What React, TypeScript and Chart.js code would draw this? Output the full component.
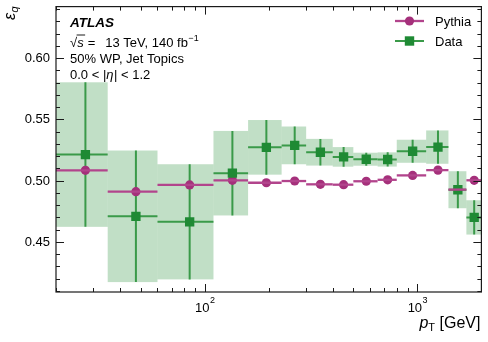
import { useEffect, useRef } from 'react';
import { Chart, registerables } from 'chart.js';

Chart.register(...registerables);

// ---- data ----
const binEdges = [20, 35, 60, 110, 160, 230, 300, 400, 500, 650, 800, 1100, 1400, 1700, 2000];
const dataValues = [0.5212, 0.4708, 0.4663, 0.5060, 0.5271, 0.5287, 0.5231, 0.5193, 0.5174, 0.5172, 0.5239, 0.5273, 0.4925, 0.4699];
const dataErrors = [0.0590, 0.0537, 0.0470, 0.0345, 0.0223, 0.0154, 0.0109, 0.0080, 0.0053, 0.0058, 0.0094, 0.0136, 0.0151, 0.0140];
const pythiaValues = [0.5083, 0.4909, 0.4964, 0.5002, 0.4982, 0.4996, 0.4969, 0.4966, 0.4994, 0.5006, 0.5042, 0.5085, 0.4926, 0.5002];

const yMajorTicks = [0.45, 0.5, 0.55, 0.6];
const yMinorTicks = [0.41, 0.42, 0.43, 0.44, 0.46, 0.47, 0.48, 0.49, 0.51, 0.52, 0.53, 0.54, 0.56, 0.57, 0.58, 0.59, 0.61, 0.62, 0.63, 0.64];
const xMajorTicks = [100, 1000];
const xMajorExponents = ['2', '3'];
const xMinorTicks = [20, 30, 40, 50, 60, 70, 80, 90, 200, 300, 400, 500, 600, 700, 800, 900, 2000];

const xMin = 20;
const xMax = 2000;
const yMin = 0.409;
const yMax = 0.642;

const GREEN = '#1f8a34';
const GREEN_LINE = '#3a9a49';
const BAND = 'rgba(40,145,60,0.29)';
const PINK = '#a5307b';
const PINK_LINE = '#b2448c';
const FONT = '"Liberation Sans", Arial, Helvetica, sans-serif';

const centers = binEdges.slice(0, -1).map((e, i) => (e + binEdges[i + 1]) / 2);

const decor = {
  id: 'decor',
  beforeDatasetsDraw(chart: any) {
    const { ctx, scales } = chart;
    const xs = scales.x;
    const ys = scales.y;
    ctx.save();
    // uncertainty bands
    ctx.fillStyle = BAND;
    for (let i = 0; i < dataValues.length; i++) {
      const x0 = xs.getPixelForValue(binEdges[i]);
      const x1 = xs.getPixelForValue(binEdges[i + 1]);
      const y0 = ys.getPixelForValue(dataValues[i] + dataErrors[i]);
      const y1 = ys.getPixelForValue(dataValues[i] - dataErrors[i]);
      ctx.fillRect(x0, y0, x1 - x0, y1 - y0);
    }
    // data error bars
    ctx.strokeStyle = GREEN_LINE;
    ctx.lineWidth = 2;
    for (let i = 0; i < dataValues.length; i++) {
      const x0 = xs.getPixelForValue(binEdges[i]);
      const x1 = xs.getPixelForValue(binEdges[i + 1]);
      const xc = xs.getPixelForValue(centers[i]);
      const yc = ys.getPixelForValue(dataValues[i]);
      const y0 = ys.getPixelForValue(dataValues[i] + dataErrors[i]);
      const y1 = ys.getPixelForValue(dataValues[i] - dataErrors[i]);
      ctx.beginPath();
      ctx.moveTo(x0, yc);
      ctx.lineTo(x1, yc);
      ctx.moveTo(xc, y0);
      ctx.lineTo(xc, y1);
      ctx.stroke();
    }
    ctx.restore();
  },
  afterDatasetsDraw(chart: any) {
    const { ctx, scales, chartArea } = chart;
    const xs = scales.x;
    const ys = scales.y;
    const { left, right, top, bottom } = chartArea;
    ctx.save();
    // pythia bin-width lines
    ctx.strokeStyle = PINK_LINE;
    ctx.lineWidth = 2.3;
    for (let i = 0; i < pythiaValues.length; i++) {
      const x0 = xs.getPixelForValue(binEdges[i]);
      const x1 = xs.getPixelForValue(binEdges[i + 1]);
      const y = ys.getPixelForValue(pythiaValues[i]);
      ctx.beginPath();
      ctx.moveTo(x0, y);
      ctx.lineTo(x1, y);
      ctx.stroke();
    }

    // frame
    ctx.strokeStyle = '#1a1a1a';
    ctx.lineWidth = 1.2;
    ctx.strokeRect(left, top, right - left, bottom - top);

    // ticks
    ctx.lineWidth = 1;
    ctx.beginPath();
    const yTick = (v: number, len: number) => {
      const y = Math.round(ys.getPixelForValue(v)) + 0.5;
      ctx.moveTo(left, y);
      ctx.lineTo(left + len, y);
      ctx.moveTo(right, y);
      ctx.lineTo(right - len, y);
    };
    const xTick = (v: number, len: number) => {
      const x = Math.round(xs.getPixelForValue(v)) + 0.5;
      ctx.moveTo(x, bottom);
      ctx.lineTo(x, bottom - len);
      ctx.moveTo(x, top);
      ctx.lineTo(x, top + len);
    };
    yMajorTicks.forEach((v) => yTick(v, 8));
    yMinorTicks.forEach((v) => yTick(v, 4));
    xMajorTicks.forEach((v) => xTick(v, 8));
    xMinorTicks.forEach((v) => xTick(v, 4));
    ctx.stroke();

    // y tick labels
    ctx.fillStyle = '#000';
    ctx.font = `13px ${FONT}`;
    ctx.textAlign = 'right';
    ctx.textBaseline = 'middle';
    yMajorTicks.forEach((v) => {
      ctx.fillText(v.toFixed(2), left - 6, ys.getPixelForValue(v) + 0.5);
    });

    // x tick labels 10^n
    ctx.textAlign = 'left';
    ctx.textBaseline = 'alphabetic';
    xMajorTicks.forEach((v, i) => {
      const x = xs.getPixelForValue(v);
      ctx.font = `13px ${FONT}`;
      const w1 = ctx.measureText('10').width;
      ctx.font = `9px ${FONT}`;
      const w2 = ctx.measureText(xMajorExponents[i]).width;
      const sx = x - (w1 + w2) / 2;
      ctx.font = `13px ${FONT}`;
      ctx.fillText('10', sx, bottom + 20);
      ctx.font = `9px ${FONT}`;
      ctx.fillText(xMajorExponents[i], sx + w1 + 0.5, bottom + 11);
    });

    // x axis title: p_T [GeV], right aligned
    {
      const base = bottom + 36;
      ctx.font = `16px ${FONT}`;
      const wUnit = ctx.measureText(' [GeV]').width;
      ctx.font = `11px ${FONT}`;
      const wT = ctx.measureText('T').width;
      ctx.font = `italic 16px ${FONT}`;
      const wp = ctx.measureText('p').width;
      let x = right - 1 - wUnit - wT - wp;
      ctx.font = `italic 16px ${FONT}`;
      ctx.fillText('p', x, base);
      x += wp;
      ctx.font = `11px ${FONT}`;
      ctx.fillText('T', x, base + 3);
      x += wT;
      ctx.font = `16px ${FONT}`;
      ctx.fillText(' [GeV]', x, base);
    }

    // y axis title: epsilon_q, rotated
    {
      ctx.save();
      ctx.translate(15, 20);
      ctx.rotate(-Math.PI / 2);
      ctx.font = `italic 16px ${FONT}`;
      ctx.fillText('ε', 0, 0);
      const we = ctx.measureText('ε').width;
      ctx.font = `italic 11px ${FONT}`;
      ctx.fillText('q', we + 0.5, 3);
      ctx.restore();
    }

    // ATLAS label block
    {
      const x0 = left + 14;
      ctx.font = `italic bold 13.5px ${FONT}`;
      ctx.fillText('ATLAS', x0, 27);

      const b2 = 46.5;
      let x = x0;
      ctx.font = `13px ${FONT}`;
      ctx.fillText('√', x, b2);
      x += ctx.measureText('√').width;
      ctx.font = `italic 13px ${FONT}`;
      const ws = ctx.measureText('s').width;
      ctx.fillText('s', x, b2);
      ctx.lineWidth = 0.9;
      ctx.strokeStyle = '#000';
      ctx.beginPath();
      ctx.moveTo(x - 0.5, b2 - 11.5);
      ctx.lineTo(x + ws + 1.5, b2 - 11.5);
      ctx.stroke();
      x += ws + 4;
      ctx.font = `13px ${FONT}`;
      ctx.fillText('=', x, b2);
      x += ctx.measureText('=').width + 10;
      const main = '13 TeV, 140 fb';
      ctx.fillText(main, x, b2);
      x += ctx.measureText(main).width + 0.5;
      ctx.font = `9px ${FONT}`;
      ctx.fillText('−1', x, b2 - 6);

      ctx.font = `13px ${FONT}`;
      ctx.fillText('50% WP, Jet Topics', x0, 63);

      const b4 = 79;
      x = x0;
      const p1 = '0.0 < |';
      ctx.fillText(p1, x, b4);
      x += ctx.measureText(p1).width;
      ctx.font = `italic 13px ${FONT}`;
      ctx.fillText('η', x, b4);
      x += ctx.measureText('η').width + 0.5;
      ctx.font = `13px ${FONT}`;
      ctx.fillText('| < 1.2', x, b4);
    }

    // legend
    {
      const lx0 = 395;
      const lx1 = 424;
      const mx = (lx0 + lx1) / 2;
      const tx = 435;
      // Pythia
      let y = 21;
      ctx.strokeStyle = PINK_LINE;
      ctx.lineWidth = 2.3;
      ctx.beginPath();
      ctx.moveTo(lx0, y);
      ctx.lineTo(lx1, y);
      ctx.stroke();
      ctx.fillStyle = PINK;
      ctx.beginPath();
      ctx.arc(mx, y, 4.6, 0, Math.PI * 2);
      ctx.fill();
      ctx.fillStyle = '#000';
      ctx.font = `13px ${FONT}`;
      ctx.fillText('Pythia', tx, 25.5);
      // Data
      y = 41;
      ctx.strokeStyle = GREEN_LINE;
      ctx.lineWidth = 2;
      ctx.beginPath();
      ctx.moveTo(lx0, y);
      ctx.lineTo(lx1, y);
      ctx.stroke();
      ctx.fillStyle = GREEN;
      ctx.fillRect(mx - 4.7, y - 4.7, 9.4, 9.4);
      ctx.fillStyle = '#000';
      ctx.fillText('Data', tx, 45.5);
    }
    ctx.restore();
  },
};

export default function App() {
  const ref = useRef<HTMLCanvasElement>(null);
  useEffect(() => {
    document.body.style.margin = '0';
    const canvas = ref.current;
    if (!canvas) return;
    const chart = new Chart(canvas, {
      type: 'scatter',
      data: {
        datasets: [
          {
            label: 'Data',
            data: centers.map((x, i) => ({ x, y: dataValues[i] })),
            pointStyle: 'rect',
            pointRadius: 6.6,
            pointHoverRadius: 6.6,
            backgroundColor: GREEN,
            borderWidth: 0,
            pointBorderWidth: 0,
            order: 0,
          },
          {
            label: 'Pythia',
            data: centers.map((x, i) => ({ x, y: pythiaValues[i] })),
            pointStyle: 'circle',
            pointRadius: 4.6,
            pointHoverRadius: 4.6,
            backgroundColor: PINK,
            borderWidth: 0,
            pointBorderWidth: 0,
            order: 1,
          },
        ],
      },
      options: {
        responsive: false,
        animation: false,
        devicePixelRatio: 1,
        events: [],
        layout: { padding: { left: 56, right: 4, top: 4, bottom: 50 } },
        scales: {
          x: { type: 'logarithmic', min: xMin, max: xMax, display: false },
          y: { type: 'linear', min: yMin, max: yMax, display: false },
        },
        plugins: {
          legend: { display: false },
          tooltip: { enabled: false },
        },
      },
      plugins: [decor],
    } as any);
    return () => chart.destroy();
  }, []);
  return (
    <div style={{ width: 488, height: 342, background: '#fff' }}>
      <canvas ref={ref} width={488} height={342} style={{ display: 'block' }} />
    </div>
  );
}
